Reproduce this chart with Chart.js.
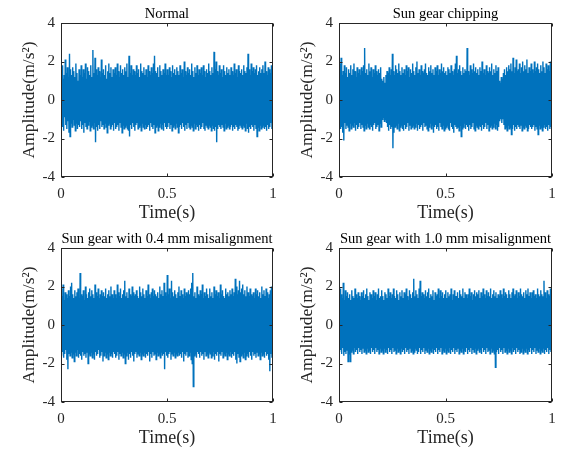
<!DOCTYPE html>
<html>
<head>
<meta charset="utf-8">
<script src="https://cdn.jsdelivr.net/npm/chart.js@4.4.1/dist/chart.umd.min.js"></script>
<style>
body { margin: 0; background: #fff; }
#wrap { position: relative; width: 567px; height: 450px; }
canvas { position: absolute; }
</style>
</head>
<body>
<div id="wrap">
  <canvas id="c1" width="286" height="225" style="left:0;top:0"></canvas>
  <canvas id="c2" width="289" height="225" style="left:278px;top:0"></canvas>
  <canvas id="c3" width="286" height="225" style="left:0;top:225px"></canvas>
  <canvas id="c4" width="289" height="225" style="left:278px;top:225px"></canvas>
</div>
<script>
// panel titles
const titles = ['Normal', 'Sun gear chipping', 'Sun gear with 0.4 mm misalignment', 'Sun gear with 1.0 mm misalignment'];

// tick values
const xTicks = [0, 0.5, 1];
const yTicks = [-4, -2, 0, 2, 4];

// acceleration samples (m/s^2), 400 per record, evenly spaced over 1 s
const normal = [
  1.5,-1.2,1.8,-1.4,1.1,-1.6,1.3,-0.9,2.1,-1.3,1.4,-1.5,1.7,-1.1,1.2,-1.7,2.4,-1.9,1.6,-1.2,
  1.3,-1.4,1.7,-1.0,1.5,-1.3,1.2,-1.6,1.9,-1.2,1.4,-1.5,1.0,-1.3,1.6,-1.4,1.3,-1.1,1.8,-1.5,
  1.2,-1.3,1.6,-1.7,1.4,-1.2,1.9,-1.4,1.1,-1.5,1.7,-1.3,1.5,-1.1,1.3,-1.6,1.8,-1.4,1.2,-1.3,
  2.6,-1.5,1.4,-1.2,2.2,-2.2,1.6,-1.4,1.3,-1.6,1.7,-1.3,1.5,-1.5,1.2,-1.1,2.1,-1.4,1.4,-1.3,
  1.6,-1.5,1.3,-1.2,1.8,-1.4,1.1,-1.7,1.5,-1.3,1.9,-1.2,1.4,-1.5,1.7,-1.4,1.2,-1.3,1.6,-1.6,
  1.4,-1.2,1.7,-1.5,1.3,-1.4,1.9,-1.3,1.5,-1.6,1.2,-1.2,1.8,-1.4,1.4,-1.7,1.6,-1.3,1.3,-1.5,
  1.7,-1.4,1.5,-1.3,1.9,-1.5,1.2,-1.6,2.3,-1.9,1.4,-1.3,1.8,-1.5,1.3,-1.2,1.6,-1.4,1.5,-1.6,
  1.3,-1.3,1.8,-1.2,1.4,-1.5,1.6,-1.4,1.2,-1.3,1.9,-1.6,1.5,-1.2,1.4,-1.4,1.7,-1.5,1.3,-1.3,
  1.6,-1.5,1.2,-1.4,1.8,-1.3,1.5,-1.6,1.3,-1.2,1.7,-1.4,1.4,-1.5,1.9,-1.3,2.3,-1.7,1.5,-1.4,
  1.4,-1.3,1.7,-1.6,1.2,-1.4,1.8,-1.2,1.5,-1.5,1.3,-1.3,1.6,-1.6,1.4,-1.2,1.9,-1.4,1.3,-1.5,
  1.6,-1.4,1.3,-1.2,1.7,-1.5,1.5,-1.3,1.2,-1.6,1.8,-1.4,1.4,-1.3,1.6,-1.5,1.3,-1.2,1.7,-1.4,
  1.5,-1.7,1.3,-1.4,1.8,-1.3,1.4,-1.5,1.6,-1.2,1.2,-1.4,2.0,-1.6,1.5,-1.3,1.3,-1.5,1.7,-1.2,
  1.4,-1.4,1.6,-1.5,1.3,-1.3,1.9,-1.4,1.5,-1.6,1.2,-1.2,1.7,-1.5,1.4,-1.3,1.8,-1.4,1.3,-1.6,
  1.6,-1.3,1.4,-1.5,1.7,-1.4,1.3,-1.2,1.8,-1.5,1.5,-1.6,1.2,-1.3,1.6,-1.4,1.4,-1.5,1.9,-1.3,
  1.5,-1.4,1.3,-1.6,1.7,-1.3,1.4,-1.5,2.5,-1.6,1.6,-1.4,2.0,-2.2,1.5,-1.5,1.3,-1.3,1.8,-1.4,
  1.4,-1.5,1.6,-1.3,1.2,-1.4,1.8,-1.6,1.5,-1.2,1.3,-1.5,1.7,-1.4,1.4,-1.3,1.6,-1.5,1.3,-1.4,
  1.7,-1.3,1.5,-1.6,1.3,-1.4,1.9,-1.5,1.4,-1.3,1.6,-1.4,1.2,-1.6,1.8,-1.5,1.5,-1.3,1.4,-1.4,
  1.6,-1.5,1.3,-1.3,1.8,-1.4,1.5,-1.6,1.4,-1.2,1.7,-1.5,2.4,-1.7,1.6,-1.4,1.3,-1.5,1.9,-1.3,
  1.5,-1.4,1.7,-1.6,1.4,-1.3,1.6,-1.5,1.8,-1.9,1.3,-1.4,1.5,-1.6,1.7,-1.3,1.4,-1.5,1.6,-1.4,
  1.8,-1.3,1.4,-1.5,2.0,-1.4,1.5,-1.6,1.3,-1.3,1.7,-1.5,1.6,-1.4,1.4,-1.2,1.8,-1.5,1.6,-1.4
];
const chipping = [
  1.6,-1.3,1.9,-1.5,2.2,-1.4,1.3,-1.7,1.5,-2.1,1.8,-1.2,1.4,-1.5,1.7,-1.3,1.2,-1.4,1.6,-1.6,
  1.4,-1.2,1.8,-1.5,1.3,-1.3,1.6,-1.4,1.9,-1.2,1.5,-1.6,1.2,-1.3,1.7,-1.5,1.4,-1.4,1.6,-1.2,
  1.3,-1.5,1.7,-1.3,1.5,-1.4,1.8,-1.6,2.7,-1.3,1.4,-1.5,1.6,-1.2,1.3,-1.4,1.9,-1.5,1.5,-1.3,
  1.7,-1.4,1.2,-1.6,1.6,-1.3,1.4,-1.2,1.8,-1.5,1.5,-1.4,1.3,-1.3,1.6,-1.6,1.4,-1.2,1.7,-1.4,
  1.1,-1.0,1.0,-0.9,1.2,-1.1,0.9,-1.0,1.3,-1.2,1.5,-1.4,1.4,-1.6,1.7,-1.3,1.3,-1.5,1.6,-1.4,
  2.4,-2.5,1.5,-1.7,1.3,-1.4,1.8,-1.3,1.6,-1.5,1.4,-1.2,1.9,-1.6,1.5,-1.4,1.3,-1.3,1.7,-1.5,
  1.4,-1.6,1.6,-1.3,1.3,-1.5,1.8,-1.4,1.5,-1.2,1.7,-1.6,1.2,-1.3,1.6,-1.5,1.4,-1.4,1.9,-1.3,
  1.5,-1.5,1.3,-1.4,1.7,-1.2,2.0,-1.6,1.4,-1.3,1.6,-1.5,1.3,-1.4,1.8,-1.3,1.5,-1.6,1.4,-1.2,
  1.6,-1.4,1.9,-1.3,1.4,-1.5,1.3,-1.6,1.7,-1.4,1.5,-1.2,1.8,-1.5,1.4,-1.3,1.6,-1.7,1.3,-1.4,
  1.7,-1.3,1.5,-1.5,1.8,-1.4,1.3,-1.6,1.6,-1.2,1.4,-1.4,1.9,-1.5,1.5,-1.3,1.7,-1.6,1.4,-1.5,
  1.5,-1.4,1.3,-1.3,1.7,-1.5,1.6,-1.6,1.4,-1.2,1.8,-1.4,1.5,-1.5,1.3,-1.7,1.6,-1.3,1.9,-1.4,
  2.3,-1.5,1.4,-1.4,1.6,-1.6,1.8,-1.3,1.5,-1.9,1.3,-1.5,1.7,-1.4,1.4,-1.2,1.6,-1.5,1.5,-1.3,
  2.7,-1.4,1.5,-1.6,1.3,-1.3,1.8,-1.5,1.6,-1.4,1.4,-1.2,1.9,-1.5,1.5,-1.6,1.7,-1.3,1.4,-1.4,
  1.6,-1.5,1.3,-1.3,1.7,-1.4,1.5,-1.6,2.0,-1.3,1.4,-1.5,1.6,-1.4,1.3,-1.2,1.8,-1.5,1.5,-1.3,
  1.4,-1.6,1.7,-1.4,1.5,-1.3,1.9,-1.5,1.3,-1.4,1.6,-1.2,1.4,-1.5,1.8,-1.3,1.5,-1.6,1.7,-1.4,
  1.0,-1.1,0.9,-1.0,1.2,-1.2,1.1,-1.0,1.4,-1.3,1.6,-1.5,1.3,-1.4,1.7,-1.6,1.5,-1.3,1.8,-1.5,
  1.6,-1.4,1.9,-1.8,1.5,-1.5,2.2,-1.3,1.4,-1.6,1.7,-1.4,2.1,-1.5,1.5,-1.3,1.6,-1.4,1.9,-1.5,
  1.4,-1.3,1.7,-1.6,2.0,-1.4,1.5,-1.5,1.8,-1.3,1.6,-1.4,2.1,-1.6,1.4,-1.5,1.7,-1.3,1.5,-1.4,
  1.9,-1.5,1.6,-1.4,1.4,-1.3,2.0,-1.6,1.5,-1.4,1.7,-1.5,1.9,-1.8,1.6,-1.3,1.4,-1.5,1.8,-1.4,
  1.5,-1.6,2.0,-1.4,1.7,-1.3,1.4,-1.5,1.9,-1.4,1.6,-1.6,1.8,-1.3,1.5,-1.5,2.0,-1.4,1.6,-1.3
];
const misalign04 = [
  1.9,-1.6,1.5,-1.4,2.1,-1.7,1.3,-1.5,1.7,-1.3,1.6,-1.8,1.4,-2.3,1.8,-1.5,1.5,-1.6,2.0,-1.4,
  2.2,-1.7,1.6,-1.5,1.4,-1.9,1.8,-1.4,1.5,-1.6,1.7,-1.3,1.9,-1.7,1.4,-1.5,2.7,-1.6,1.6,-1.8,
  1.5,-1.4,1.8,-1.6,1.3,-1.5,2.0,-1.7,1.6,-1.4,1.4,-2.0,1.7,-1.5,1.9,-1.6,1.5,-1.4,1.8,-1.7,
  1.6,-1.5,1.4,-1.8,2.1,-1.4,1.7,-1.6,1.5,-1.5,1.9,-1.3,1.4,-1.7,1.6,-1.6,1.8,-1.4,1.5,-1.9,
  1.7,-1.6,1.5,-1.4,1.9,-1.7,1.4,-1.5,1.6,-1.8,1.8,-1.4,1.5,-1.6,2.0,-1.5,1.6,-1.7,1.4,-1.4,
  1.8,-1.5,1.6,-1.7,1.4,-1.6,2.1,-1.4,1.7,-1.8,1.5,-1.5,1.9,-1.6,1.4,-1.4,1.6,-1.7,1.8,-1.5,
  2.3,-2.0,1.5,-1.6,1.7,-1.4,1.4,-1.8,1.9,-1.5,1.6,-1.7,1.5,-1.4,2.0,-1.6,1.7,-1.9,1.5,-1.5,
  1.6,-1.4,1.8,-1.7,1.5,-1.5,1.4,-1.6,2.0,-1.4,1.7,-1.8,1.5,-1.5,1.9,-1.6,1.6,-1.4,1.4,-1.7,
  1.8,-1.5,1.5,-1.6,2.1,-1.4,1.6,-1.9,1.4,-1.5,1.7,-1.7,1.9,-1.4,1.5,-1.6,1.8,-1.5,1.6,-1.8,
  1.5,-1.4,1.7,-1.6,1.4,-1.5,2.0,-1.7,1.6,-1.4,1.8,-1.6,1.5,-1.5,2.2,-2.3,1.7,-1.4,1.5,-1.6,
  2.6,-1.7,1.6,-1.5,1.9,-1.4,1.4,-1.8,2.3,-1.5,1.7,-1.6,1.5,-1.4,1.8,-1.7,1.6,-1.5,1.4,-1.6,
  1.7,-1.4,2.0,-1.6,1.5,-1.5,1.8,-1.7,1.6,-1.4,1.4,-1.9,1.9,-1.5,1.5,-1.6,1.7,-1.4,1.6,-1.7,
  1.8,-1.6,1.6,-1.4,1.9,-1.8,2.2,-2.0,2.7,-3.2,1.5,-1.6,1.7,-1.5,1.4,-1.7,2.0,-1.4,1.6,-1.5,
  1.5,-1.7,1.8,-1.4,1.6,-1.6,2.1,-1.5,1.4,-1.8,1.7,-1.4,1.5,-1.6,1.9,-1.5,1.6,-1.7,1.4,-1.4,
  1.9,-1.5,1.5,-1.7,1.7,-1.6,1.4,-1.4,2.0,-1.8,1.6,-1.5,1.8,-1.6,1.5,-1.4,1.7,-1.9,1.4,-1.5,
  2.1,-1.6,1.6,-1.4,1.8,-1.7,1.5,-1.5,1.4,-1.6,1.9,-1.4,1.6,-1.8,1.7,-1.5,1.5,-1.6,1.8,-1.4,
  1.6,-1.7,1.9,-1.5,1.5,-1.6,1.7,-1.4,2.4,-1.8,2.0,-2.0,1.6,-1.5,1.8,-1.7,2.3,-1.9,1.7,-1.6,
  1.9,-1.5,2.1,-1.7,1.6,-1.4,1.8,-1.8,1.5,-1.6,2.0,-1.5,1.7,-1.7,1.5,-1.4,1.9,-1.6,1.6,-1.8,
  1.5,-1.4,1.7,-1.6,1.4,-1.5,1.9,-1.7,1.6,-1.4,1.8,-1.6,1.5,-1.5,1.7,-1.8,1.4,-1.4,2.0,-1.6,
  1.6,-1.5,1.8,-1.7,1.5,-1.4,1.9,-1.6,1.7,-1.5,1.4,-1.8,1.6,-2.4,1.8,-1.5,2.0,-1.7,1.6,-1.5
];
const misalign10 = [
  1.5,-1.4,1.9,-1.3,1.6,-1.5,1.4,-1.2,2.2,-1.6,1.3,-1.4,1.8,-1.5,1.5,-1.3,1.7,-1.9,1.4,-1.5,
  1.6,-1.9,1.3,-1.4,1.8,-1.3,1.5,-1.5,1.4,-1.2,1.9,-1.4,1.6,-1.3,1.4,-1.5,1.7,-1.2,1.5,-1.4,
  1.3,-1.3,1.7,-1.5,1.5,-1.2,1.8,-1.4,1.4,-1.3,1.6,-1.5,1.9,-1.2,1.5,-1.4,1.3,-1.3,1.7,-1.5,
  1.6,-1.2,1.4,-1.4,1.8,-1.3,1.5,-1.5,1.7,-1.2,1.3,-1.4,1.6,-1.3,1.9,-1.5,1.4,-1.2,1.5,-1.4,
  1.8,-1.3,1.5,-1.5,1.3,-1.2,1.7,-1.4,1.6,-1.3,1.4,-1.5,1.9,-1.2,1.5,-1.4,1.7,-1.3,1.4,-1.5,
  1.6,-1.2,1.9,-1.4,1.5,-1.3,1.4,-1.5,1.8,-1.2,1.6,-1.4,1.3,-1.3,1.7,-1.5,1.5,-1.2,1.8,-1.4,
  1.4,-1.3,1.7,-1.5,1.6,-1.2,1.9,-1.4,1.5,-1.3,1.3,-1.5,1.8,-1.2,1.6,-1.4,1.4,-1.3,1.7,-1.5,
  2.4,-1.4,1.5,-1.2,1.8,-1.3,1.6,-1.5,1.4,-1.4,1.9,-1.2,2.3,-1.5,1.5,-1.3,1.7,-1.4,1.6,-1.2,
  1.4,-1.5,1.8,-1.3,1.5,-1.4,1.7,-1.2,1.9,-1.5,1.4,-1.3,1.6,-1.4,1.5,-1.2,1.8,-1.5,1.3,-1.3,
  1.7,-1.4,1.5,-1.2,1.6,-1.5,1.9,-1.3,1.4,-1.4,1.8,-1.2,1.5,-1.5,1.7,-1.3,1.4,-1.4,1.6,-1.2,
  1.8,-1.5,1.4,-1.3,1.7,-1.4,1.5,-1.2,1.6,-1.5,1.9,-1.3,1.3,-1.4,1.6,-1.2,1.8,-1.5,1.5,-1.3,
  1.5,-1.4,1.7,-1.2,1.4,-1.5,1.8,-1.3,1.6,-1.4,1.5,-1.2,1.9,-1.5,1.4,-1.3,1.7,-1.4,1.6,-1.2,
  1.4,-1.5,1.6,-1.3,1.9,-1.4,1.5,-1.2,1.7,-1.5,1.3,-1.3,1.6,-1.4,1.8,-1.2,1.5,-1.5,1.7,-1.3,
  1.6,-1.2,1.8,-1.4,1.4,-1.3,1.7,-1.5,1.5,-1.2,1.9,-1.4,1.6,-1.3,1.4,-1.5,1.8,-1.2,1.5,-1.4,
  1.7,-1.3,1.5,-1.5,1.9,-1.2,1.4,-1.4,1.6,-1.3,1.8,-1.5,1.5,-2.2,1.7,-1.4,1.4,-1.3,1.6,-1.5,
  1.5,-1.2,1.8,-1.4,1.6,-1.3,1.4,-1.5,1.9,-1.2,1.5,-1.4,1.7,-1.3,1.6,-1.5,1.4,-1.2,1.8,-1.4,
  1.6,-1.3,1.4,-1.5,1.7,-1.2,1.9,-1.4,1.5,-1.3,1.6,-1.5,1.8,-1.2,1.4,-1.4,1.7,-1.3,1.5,-1.5,
  1.9,-1.4,1.6,-1.2,1.5,-1.5,1.7,-1.3,1.4,-1.4,1.8,-1.2,1.6,-1.5,1.9,-1.3,1.5,-1.4,1.7,-1.2,
  1.4,-1.5,1.7,-1.3,1.8,-1.4,1.5,-1.2,1.6,-1.5,1.4,-1.3,1.9,-1.4,1.6,-1.2,1.5,-1.5,1.8,-1.3,
  1.6,-1.4,1.5,-1.2,2.3,-1.5,1.7,-1.3,1.4,-1.4,1.8,-1.2,1.6,-1.5,1.5,-1.3,1.9,-1.4,1.7,-1.2
];

const serif = '"Liberation Serif", "Times New Roman", serif';
const axisColor = '#262626';

// box around the axes with inward ticks on every side, plus the title
const frame = {
  id: 'frame',
  afterDatasetsDraw(chart) {
    const { ctx, chartArea: a, scales: { x, y } } = chart;
    const l = Math.round(a.left) + 0.5, r = Math.round(a.right) - 0.5;
    const t = Math.round(a.top) + 0.5, b = Math.round(a.bottom) - 0.5;
    ctx.save();
    ctx.strokeStyle = axisColor;
    ctx.lineWidth = 1;
    ctx.beginPath();
    xTicks.forEach(v => {
      const px = Math.round(x.getPixelForValue(v)) + 0.5;
      ctx.moveTo(px, b); ctx.lineTo(px, b - 3);
      ctx.moveTo(px, t); ctx.lineTo(px, t + 3);
    });
    yTicks.forEach(v => {
      const py = Math.round(y.getPixelForValue(v)) + 0.5;
      ctx.moveTo(l, py); ctx.lineTo(l + 3, py);
      ctx.moveTo(r, py); ctx.lineTo(r - 3, py);
    });
    ctx.stroke();
    ctx.strokeRect(l, t, r - l, b - t);
    ctx.fillStyle = '#000';
    ctx.font = '14.5px ' + serif;
    ctx.textAlign = 'center';
    ctx.textBaseline = 'alphabetic';
    ctx.fillText(chart.options.plugins.frame.title, (a.left + a.right) / 2, a.top - 5);
    ctx.restore();
  }
};

function makePanel(id, title, values, padRight) {
  const points = values.map((v, i) => ({ x: i / (values.length - 1), y: v }));
  return new Chart(document.getElementById(id), {
    type: 'line',
    data: {
      datasets: [{
        data: points,
        borderColor: '#0072BD',
        borderWidth: 1.4,
        pointRadius: 0,
        tension: 0
      }]
    },
    options: {
      responsive: false,
      animation: false,
      layout: { padding: { top: 23, right: padRight, left: 0, bottom: 0 } },
      plugins: {
        legend: { display: false },
        tooltip: { enabled: false },
        frame: { title: title }
      },
      scales: {
        x: {
          type: 'linear',
          min: 0,
          max: 1,
          border: { display: false },
          grid: { display: false, drawTicks: false },
          afterBuildTicks: s => { s.ticks = xTicks.map(v => ({ value: v })); },
          afterFit: s => { s.height = 48; },
          ticks: { color: axisColor, padding: 8, maxRotation: 0, callback: v => String(v), font: { family: serif, size: 15 } },
          title: { display: true, text: 'Time(s)', color: axisColor, padding: { top: 0, bottom: 1 }, font: { family: serif, size: 18 } }
        },
        y: {
          min: -4,
          max: 4,
          border: { display: false },
          grid: { display: false, drawTicks: false },
          afterBuildTicks: s => { s.ticks = yTicks.map(v => ({ value: v })); },
          afterFit: s => { s.width = 61; },
          ticks: { color: axisColor, padding: 6, callback: v => String(v), font: { family: serif, size: 15 } },
          title: { display: true, text: 'Amplitude(m/s²)', color: axisColor, padding: { top: 19, bottom: 0 }, font: { family: serif, size: 17.5 } }
        }
      }
    },
    plugins: [frame]
  });
}

makePanel('c1', titles[0], normal, 13);
makePanel('c2', titles[1], chipping, 15);
makePanel('c3', titles[2], misalign04, 13);
makePanel('c4', titles[3], misalign10, 15);
</script>
</body>
</html>
